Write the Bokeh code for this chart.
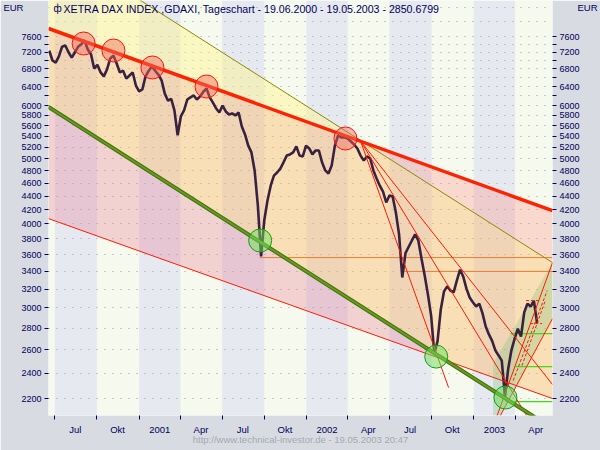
from datetime import datetime
import pandas as pd
from bokeh.plotting import figure
from bokeh.models import Range1d, FixedTicker, LogAxis, NumeralTickFormatter, BoxAnnotation, Label
from bokeh.embed import file_html
from bokeh.resources import INLINE

# ---------------- data ----------------
week_start = "2000-06-19"
closes = [7240, 7000, 6950, 7100, 7340, 7370, 7200, 7070, 7200, 7340,
          7400, 7500, 7270, 7150, 6810, 6900, 6720, 6630, 6790, 7050,
          7120, 6930, 6720, 6760, 6580, 6650, 6720, 6425, 6300, 6340,
          6630, 6760, 6860, 6760, 6670, 6540, 6250, 6100, 6140, 5900,
          5420, 5780, 5900, 6125, 6170, 6210, 6125, 6190, 6290, 6360,
          6170, 6060, 5940, 5860, 6000, 5880, 5820, 5840, 5800, 5860,
          5585, 5435, 5230, 5110, 4800, 4260, 3580, 4050, 4335, 4560,
          4720, 4770, 4835, 4940, 5055, 5075, 5110, 5215, 5055, 5040,
          5230, 5180, 5075, 5145, 5145, 4940, 4805, 4755, 4885, 5230,
          5415, 5380, 5380, 5360, 5305, 5250, 5180, 5055, 4970, 5040,
          5005, 4805, 4675, 4560, 4470, 4305, 4410, 4395, 4160, 3860,
          3330, 3620, 3700, 3780, 3860, 3780, 3550, 3350, 3140, 2920,
          2560, 2680, 2985, 3175, 3230, 3185, 3165, 3295, 3420, 3340,
          3205, 3110, 3060, 3015, 3045, 2945, 2815, 2740, 2680, 2595,
          2550, 2505, 2215, 2435, 2595, 2700, 2795, 2720, 2955, 3045,
          3015, 3075, 2851]

X0 = "2000-06-17 08:00"
X1 = "2003-06-21 16:00"
Y0, Y1 = 2076, 8597

# quarter bands / axis
blue_quarters = [("2000-07-01", "2000-10-01"), ("2001-01-01", "2001-04-01"),
                 ("2001-07-01", "2001-10-01"), ("2002-01-01", "2002-04-01"),
                 ("2002-07-01", "2002-10-01"), ("2003-01-01", "2003-04-01")]
quarter_starts = ["2000-07-01", "2000-10-01", "2001-01-01", "2001-04-01",
                  "2001-07-01", "2001-10-01", "2002-01-01", "2002-04-01",
                  "2002-07-01", "2002-10-01", "2003-01-01", "2003-04-01"]
quarter_labels = ["Jul", "Okt", "2001", "Apr", "Jul", "Okt", "2002", "Apr",
                  "Jul", "Okt", "2003", "Apr"]

y_label_vals = [2200, 2400, 2600, 2800, 3000, 3200, 3400, 3600, 3800, 4000,
                4200, 4400, 4600, 4800, 5000, 5200, 5400, 5600, 5800, 6000,
                6400, 6800, 7200, 7600]
y_minor_vals = [6200, 6600, 7000, 7400]
grid_vals = y_label_vals + y_minor_vals + [8000, 8400]

# trend lines (date, value)
res_dates = [X0, X1];                         res_vals = [7811, 4187]
sup_dates = [X0, "2003-07-09"];               sup_vals = [5970, 1952]
low_dates = [X0, X1];                         low_vals = [4074, 2200]
upp_dates = ["2000-12-12", X1];               upp_vals = [8800, 3504]

fan_origin = ("2002-04-29", 5313)
fan_end_dates = ["2002-11-07", "2003-04-26", X1]
fan_end_vals = [2284, 2076, 2308]

rise_dates = [["2003-02-21", X1], ["2003-02-28", X1]]
rise_vals = [[2076, 3504], [2076, 2893]]

dash_dates = [["2003-03-28", "2003-06-10"], ["2003-04-16", "2003-06-06"],
              ["2003-04-25", "2003-05-26"], ["2003-05-04", "2003-05-30"]]
dash_vals = [[2340, 3184], [2462, 3077], [3077, 3077], [2844, 2844]]

orange_levels = [("2001-09-21", 3565), ("2002-07-29", 3400)]
green_levels = [("2003-03-22", 2748), ("2003-04-02", 2454), ("2003-03-12", 2177)]

red_circle_dates = ["2000-09-02", "2000-11-06", "2001-01-30", "2001-05-28", "2002-03-27"]
red_circle_vals = [7420, 7244, 6835, 6404, 5360]
green_circle_dates = ["2001-09-22", "2002-10-11", "2003-03-11"]
green_circle_vals = [3779, 2540, 2208]

channel_dates = ["2003-02-12", X1, X1, "2003-02-28", "2003-02-12"]
channel_vals = [2480, 3504, 2893, 2076, 2076]

title_text = "XETRA DAX INDEX ,GDAXI, Tageschart - 19.06.2000 - 19.05.2003 - 2850.6799"
footer_text = "http://www.technical-investor.de - 19.05.2003 20:47"
unit_text = "EUR"


def ms(s):
    return pd.Timestamp(s).value / 1e6


def dts(lst):
    return [pd.Timestamp(s) for s in lst]


NAVY = "#00005e"
FONT = "Liberation Sans"

p = figure(width=600, height=450, x_axis_type="datetime", y_axis_type="log",
           x_range=Range1d(ms(X0), ms(X1)), y_range=Range1d(Y0, Y1),
           output_backend="svg", toolbar_location=None,
           min_border_left=48, min_border_right=48, min_border_top=0, min_border_bottom=35,
           background_fill_color="#f6f9ee", border_fill_color="#d8dbe1",
           outline_line_color=None)

for a, b in blue_quarters:
    p.add_layout(BoxAnnotation(left=ms(a), right=ms(b), fill_color="#e6e9f0",
                               fill_alpha=1, line_color=None, level="image"))

# grid
p.xgrid.visible = False
p.ygrid[0].ticker = FixedTicker(ticks=grid_vals)
p.ygrid.grid_line_color = "#9c9c9c"
p.ygrid.grid_line_dash = "1 7"

# axes
xa = p.xaxis[0]
xa.ticker = FixedTicker(ticks=[ms(d) + 45 * 86400000 for d in quarter_starts],
                        minor_ticks=[ms(d) for d in quarter_starts])
xa.major_label_overrides = {ms(d) + 45 * 86400000: lab for d, lab in zip(quarter_starts, quarter_labels)}
xa.major_tick_line_color = None
xa.major_tick_out = 4
xa.minor_tick_out = 4
xa.minor_tick_in = 0
xa.minor_tick_line_color = NAVY
xa.major_label_standoff = 4
xa.axis_line_color = None
xa.major_label_text_color = NAVY
xa.major_label_text_font_size = "9.5px"
xa.major_label_text_font = FONT
xa.axis_label = footer_text
xa.axis_label_standoff = -4
xa.axis_label_text_font = FONT
xa.axis_label_text_font_size = "9.5px"
xa.axis_label_text_font_style = "normal"
xa.axis_label_text_color = "#a6aab2"

ra = LogAxis()
p.add_layout(ra, "right")
for ax in (p.yaxis[0], ra):
    ax.ticker = FixedTicker(ticks=y_label_vals, minor_ticks=y_minor_vals)
    ax.formatter = NumeralTickFormatter(format="0")
    ax.axis_line_color = None
    ax.major_tick_out = 4
    ax.major_tick_in = 0
    ax.minor_tick_out = 4
    ax.minor_tick_in = 0
    ax.major_tick_line_color = NAVY
    ax.minor_tick_line_color = NAVY
    ax.major_label_standoff = 3
    ax.major_label_text_color = NAVY
    ax.major_label_text_font_size = "9px"
    ax.major_label_text_font = FONT
    ax.axis_label = "\n" + unit_text
    ax.axis_label_orientation = "horizontal"
    ax.axis_label_align = "end"
    ax.axis_label_standoff = -5
    ax.axis_label_text_font = FONT
    ax.axis_label_text_font_size = "9.5px"
    ax.axis_label_text_font_style = "normal"
    ax.axis_label_text_color = NAVY

# fills
ix_date, ix_val = fan_origin
cross_date, cross_val = "2002-11-01", 2509
p.patch(dts([X0, upp_dates[0], ix_date, X0]), [Y1 + 300, upp_vals[0], ix_val, res_vals[0]],
        fill_color="#fff58c", fill_alpha=0.45, line_color=None)
p.patch(dts([X0, ix_date, X1, X1, cross_date, X0]),
        [res_vals[0], ix_val, upp_vals[1], low_vals[1], cross_val, sup_vals[0]],
        fill_color="#ffb04a", fill_alpha=0.35, line_color=None)
p.patch(dts([ix_date, X1, X1]), [ix_val, res_vals[1], upp_vals[1]],
        fill_color="#ff8a80", fill_alpha=0.3, line_color=None)
p.patch(dts([X0, cross_date, X0]), [sup_vals[0], cross_val, low_vals[0]],
        fill_color="#e8788f", fill_alpha=0.3, line_color=None)
p.patch(dts(channel_dates), channel_vals, fill_color="#7cc47c", fill_alpha=0.3, line_color=None)

# levels
for d, v in orange_levels:
    p.line(dts([d, X1]), [v, v], line_color="#f07a30", line_width=1)
for d, v in green_levels:
    p.line(dts([d, X1]), [v, v], line_color="#3ddc1a", line_width=1.2)

# price
p.line(dts(pd.date_range(week_start, periods=len(closes), freq="7D")), closes,
       line_color="#3a2140", line_width=2.6)

# trend lines
p.line(dts(upp_dates), upp_vals, line_color="#8c8a00", line_width=1)
p.line(dts(low_dates), low_vals, line_color="#ff1a00", line_width=1)
for d, v in zip(fan_end_dates, fan_end_vals):
    p.line(dts([ix_date, d]), [ix_val, v], line_color="#ff1a00", line_width=1)
for ds, vs in zip(rise_dates, rise_vals):
    p.line(dts(ds), vs, line_color="#ff1a00", line_width=1)
for ds, vs in zip(dash_dates, dash_vals):
    p.line(dts(ds), vs, line_color="#ff1a00", line_width=1, line_dash="3 2")
p.line(dts(res_dates), res_vals, line_color="#ff2200", line_width=3.5)
p.line(dts(sup_dates), sup_vals, line_color="#3f7010", line_width=4)
p.line(dts(sup_dates), sup_vals, line_color="#6a9a1c", line_width=2)

# touch circles
p.scatter(dts(red_circle_dates), red_circle_vals, size=23, fill_color="#f26a5a",
          fill_alpha=0.45, line_color="#ff1010", line_width=1)
p.scatter(dts(green_circle_dates), green_circle_vals, size=23, fill_color="#6ee05a",
          fill_alpha=0.5, line_color="#1a9a10", line_width=1)

# title
p.add_layout(Label(x=5, y=407, x_units="screen", y_units="screen", text="ф",
                   text_font=FONT, text_font_size="10px", text_color=NAVY,
                   text_baseline="middle"))
p.add_layout(Label(x=15, y=407, x_units="screen", y_units="screen", text=title_text,
                   text_font=FONT, text_font_size="10.6px", text_color=NAVY,
                   text_baseline="middle"))

open("out.html", "w").write(file_html(p, INLINE))
